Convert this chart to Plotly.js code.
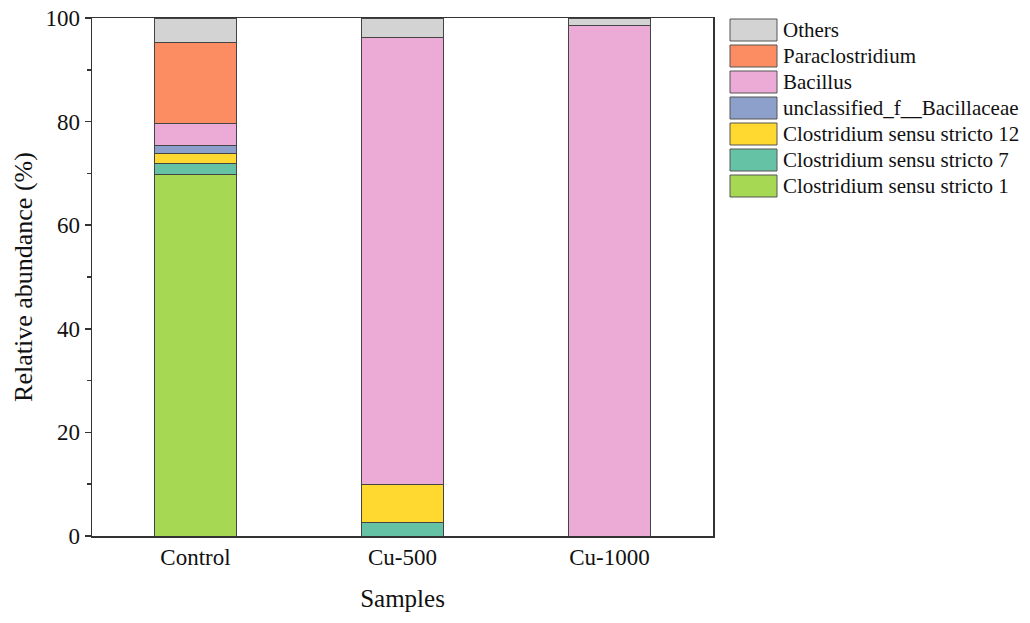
<!DOCTYPE html>
<html>
<head>
<meta charset="utf-8">
<script src="https://cdn.plot.ly/plotly-3.0.1.min.js"></script>
<style>html,body{margin:0;padding:0;background:#fff;}#chart{width:1030px;height:623px;}</style>
</head>
<body>
<div id="chart"></div>
<script>
const samples = ["Control", "Cu-500", "Cu-1000"];
// stacking order bottom -> top
const genera = ["Clostridium sensu stricto 1", "Clostridium sensu stricto 7", "Clostridium sensu stricto 12",
  "unclassified_f__Bacillaceae", "Bacillus", "Paraclostridium", "Others"];
const cSS1 = [69.8, 0, 0];
const cSS7 = [2.1, 2.6, 0];
const cSS12 = [2.0, 7.4, 0];
const unclassifiedBacillaceae = [1.4, 0, 0];
const bacillus = [4.4, 86.2, 98.6];
const paraclostridium = [15.5, 0, 0];
const others = [4.8, 3.8, 1.4];
const colors = ["#a6d854", "#66c2a5", "#ffd92f", "#8da0cb", "#ecaad6", "#fc8d62", "#d3d3d3"];

const seriesValues = [cSS1, cSS7, cSS12, unclassifiedBacillaceae, bacillus, paraclostridium, others];
const FONT = "Liberation Serif, Times New Roman, serif";

const traces = genera.map((g, i) => ({
  type: "bar", name: g, x: samples, y: seriesValues[i],
  marker: {color: colors[i], line: {color: "#444", width: 1}},
  width: 0.4, showlegend: false
}));

// custom legend with large swatches, in paper coordinates
const shapes = [];
const annotations = [];
const plotW = 1030 - 92 - 317, plotH = 623 - 18 - 87;
const order = genera.slice().reverse();
const ocolors = colors.slice().reverse();
order.forEach((g, k) => {
  const top = 19 + k * 26;
  const x0 = (730 - 92) / plotW, x1 = (777 - 92) / plotW;
  const y0 = 1 - (top - 18) / plotH, y1 = 1 - (top + 22 - 18) / plotH;
  shapes.push({type: "rect", xref: "paper", yref: "paper", x0: x0, x1: x1, y0: y1, y1: y0,
    fillcolor: ocolors[k], line: {color: "#555", width: 1}});
  annotations.push({xref: "paper", yref: "paper", x: (781 - 92) / plotW, y: 1 - (top + 11 - 18) / plotH,
    text: g, showarrow: false, xanchor: "left", yanchor: "middle",
    font: {family: FONT, size: 21, color: "#111"}});
});

const layout = {
  width: 1030, height: 623,
  margin: {l: 92, r: 317, t: 18, b: 87},
  paper_bgcolor: "#fff", plot_bgcolor: "#fff",
  barmode: "stack",
  font: {family: FONT, color: "#111"},
  xaxis: {
    range: [-0.5, 2.5], showgrid: false, zeroline: false,
    showline: true, linecolor: "#333", linewidth: 1.5, mirror: true,
    ticks: "", tickfont: {family: FONT, size: 23, color: "#111"},
    title: {text: "Samples", font: {family: FONT, size: 25, color: "#111"}, standoff: 20}
  },
  yaxis: {
    range: [0, 100], showgrid: false, zeroline: false,
    showline: true, linecolor: "#333", linewidth: 1.5, mirror: true,
    tickvals: [0, 20, 40, 60, 80, 100], ticks: "outside", ticklen: 6, tickcolor: "#333", tickwidth: 1.5,
    minor: {tickvals: [10, 30, 50, 70, 90], ticks: "outside", ticklen: 4, tickcolor: "#333", tickwidth: 1.5},
    tickfont: {family: FONT, size: 23, color: "#111"},
    title: {text: "Relative abundance (%)", font: {family: FONT, size: 26, color: "#111"}, standoff: 5}
  },
  shapes: shapes,
  annotations: annotations
};

Plotly.newPlot("chart", traces, layout, {displayModeBar: false, staticPlot: true});
</script>
</body>
</html>
